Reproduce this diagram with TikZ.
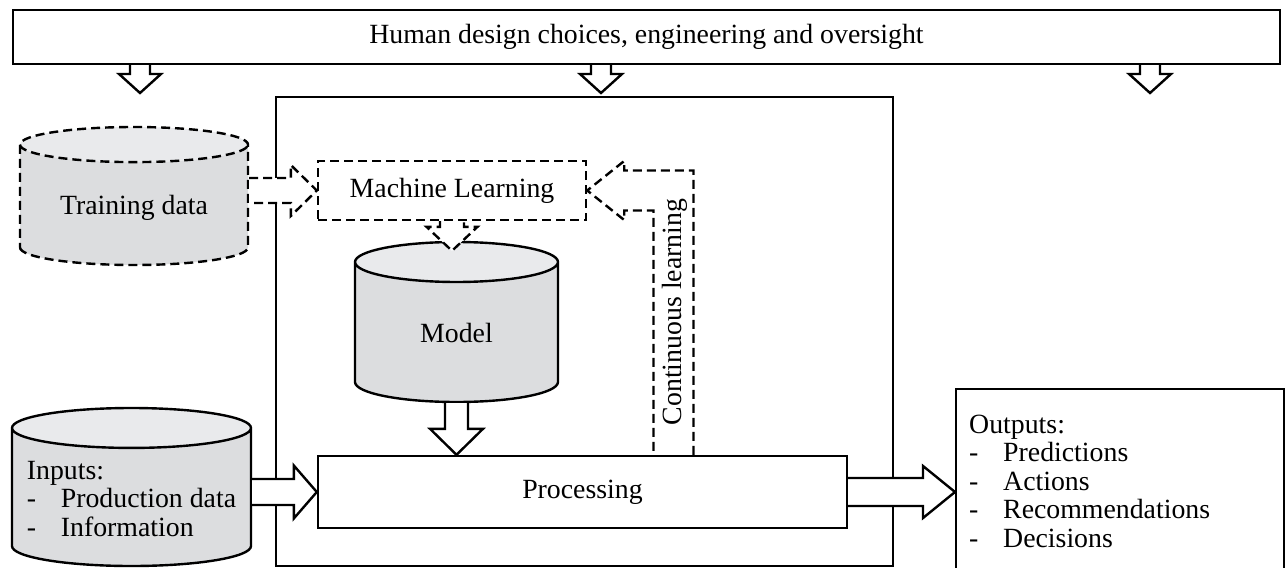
\documentclass[tikz,border=0pt]{standalone}
\usepackage{fontspec}
\setmainfont{Liberation Serif}
\usetikzlibrary{calc,shapes.geometric}
\definecolor{cylbody}{RGB}{220,221,223}
\definecolor{cyltop}{RGB}{233,234,236}
\newcommand{\bul}{\makebox[17pt][l]{-}}
\tikzset{
    every node/.style = {font=\fontsize{13.9pt}{14.25pt}\selectfont},
    box/.style =    {rectangle,
                    fill=white,
                    draw=black,
                    text=black,
                    line width=1.2pt,
                    inner sep=0pt},
    broken/.style = {dash pattern=on 4.5pt off 2.5pt},
    store/.style =  {cylinder,
                    shape border rotate=90,
                    cylinder uses custom fill,
                    cylinder body fill=cylbody,
                    cylinder end fill=cyltop,
                    draw=black,
                    line width=1.2pt,
                    inner sep=0pt,
                    anchor=shape center},
    list/.style =   {align=left},
    -,
    fat/.style =    {draw=black,
                    fill=white,
                    line width=1.2pt},
    fatdown/.style n args = {3}{fat, to path={let \p1=(\tikztostart), \p2=(\tikztotarget) in
                    (\x1-#1,\y1) -- (\x1-#1,\y2+#3) -- (\x1-#2,\y2+#3) -- (\x1,\y2)
                    -- (\x1+#2,\y2+#3) -- (\x1+#1,\y2+#3) -- (\x1+#1,\y1)}},
    fatright/.style n args = {3}{fat, to path={let \p1=(\tikztostart), \p2=(\tikztotarget) in
                    (\x1,\y2+#1) -- (\x2-#3,\y2+#1) -- (\x2-#3,\y2+#2) -- (\x2,\y2)
                    -- (\x2-#3,\y2-#2) -- (\x2-#3,\y2-#1) -- (\x1,\y2-#1)}},
    fatback/.style n args = {3}{fat, to path={let \p1=(\tikztostart), \p2=(\tikztotarget) in
                    (\x1+#1,\y1) -- (\x1+#1,\y2+#1) -- (\x2+#3,\y2+#1) -- (\x2+#3,\y2+#2) -- (\x2,\y2)
                    -- (\x2+#3,\y2-#2) -- (\x2+#3,\y2-#1) -- (\x1-#1,\y2-#1) -- (\x1-#1,\y1)}}
}

\begin{document}
\begin{tikzpicture}[x=0.5pt,y=-0.5pt]
    \path[use as bounding box] (0,0) rectangle (1288,567);
    \clip (0,0) rectangle (1288,567);

    \node[box, minimum width=633.5pt, minimum height=27pt]  (human) at (646.5,37)   {Human design choices, engineering and oversight};
    \node[box, minimum width=308.5pt, minimum height=234.5pt] (core) at (584.5,331.5) {};
    \node[box, broken, minimum width=134pt, minimum height=29.5pt] (ml) at (452,190.5) {Machine Learning};
    \node[box, minimum width=264.5pt, minimum height=36pt]  (proc)  at (582.5,492)  {Processing};

    % cylinders
    \node[store, aspect=0.197, minimum height=80pt] (model)  at (456.5,322) {\hspace*{101.5pt}};
    \node[store, broken, aspect=0.154, minimum height=69pt] (train) at (134,196) {\hspace*{114pt}};
    \node[store, aspect=0.167, minimum height=79pt] (inputs) at (131.5,487) {\hspace*{119.5pt}};
    \node (modeltext) at ([yshift=-5.5pt]model.shape center) {Model};
    \node (traintext) at ([yshift=-6pt]train.shape center) {Training data};
    \node[list] (intext) at ([yshift=-6pt]inputs.shape center) {Inputs:\\ \bul Production data\\ \bul Information};

    \node[box, list, anchor=north west, text width=151pt, inner xsep=6.5pt,
          minimum height=92pt] (outputs) at (955,388)
        {Outputs:\\ \bul Predictions\\ \bul Actions\\ \bul Recommendations\\ \bul Decisions};

    \coordinate (tipa) at (140,93);
    \coordinate (tipb) at (601,93);
    \coordinate (tipc) at (1150,93);
    \coordinate (cl)   at (673.5,0);

    % oversight arrows
    \foreach \t in {tipa,tipb,tipc}
        \draw[fatdown={5pt}{10.5pt}{9.5pt}] (human.south -| \t) to (\t);

    % data flow
    \draw[fatright={6.25pt}{12.75pt}{13pt}, broken] (train.east) to (ml.west);
    \draw[fatdown={6pt}{12.75pt}{12pt}, broken] (ml.south) to ([yshift=-5pt]model.north);
    \draw[fatdown={5.75pt}{13.25pt}{13pt}] (model.south) to (proc.north -| model);
    \draw[fatright={6.5pt}{13.25pt}{11.5pt}] (inputs.east) to (proc.west);
    \draw[fatright={7pt}{13pt}{16pt}] (proc.east) to (outputs.west |- proc);
    \draw[fatback={10pt}{14.75pt}{18.5pt}, broken] (proc.north -| cl) to (ml.east);
    \node[rotate=90] (cltext) at (675,312) {Continuous learning};
\end{tikzpicture}
\end{document}
